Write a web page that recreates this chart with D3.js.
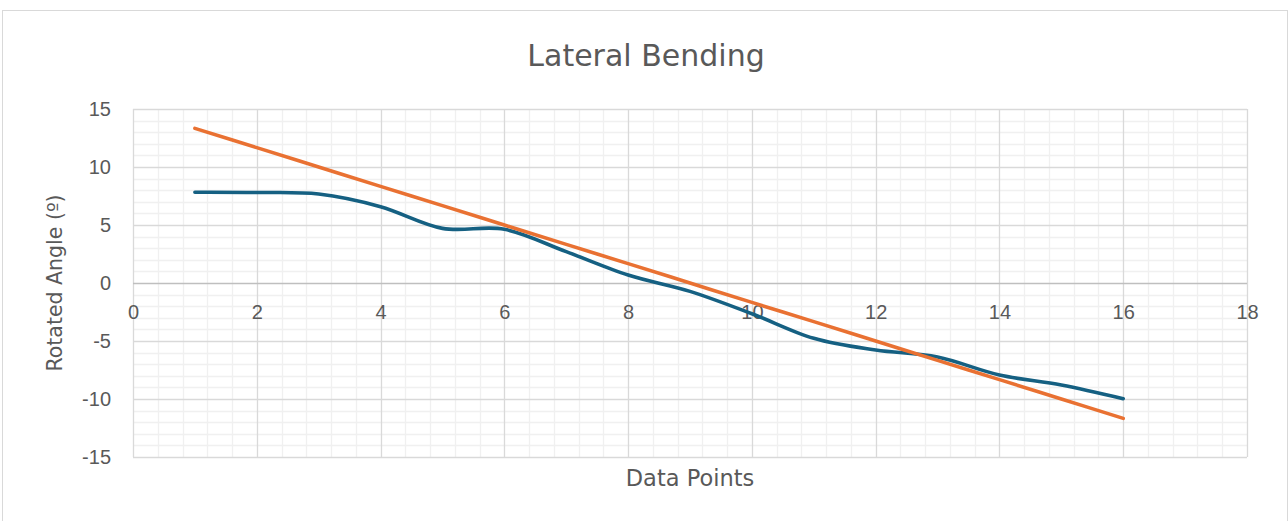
<!DOCTYPE html>
<html>
<head>
<meta charset="utf-8">
<script src="https://cdn.jsdelivr.net/npm/d3@7"></script>
<style>
  html, body { margin: 0; padding: 0; background: #ffffff; }
  svg { display: block; }
  text { font-family: "DejaVu Sans", "Noto Sans", sans-serif; fill: #595959; }
</style>
</head>
<body>
<svg id="chart" width="1288" height="521"></svg>
<script>
// Measurement points along the bend
const dataPoints = [1, 2, 3, 4, 5, 6, 7, 8, 9, 10, 11, 12, 13, 14, 15, 16];
// Measured rotated angle (degrees)
const measuredAngle = [7.82, 7.8, 7.67, 6.58, 4.71, 4.63, 2.7, 0.69, -0.72, -2.65, -4.77, -5.78, -6.38, -7.93, -8.79, -9.97];
// Reference straight-line angle (degrees)
const referenceAngle = [13.33, 11.67, 10.0, 8.33, 6.67, 5.0, 3.33, 1.67, 0.0, -1.67, -3.33, -5.0, -6.67, -8.33, -10.0, -11.67];

const xTicks = [0, 2, 4, 6, 8, 10, 12, 14, 16, 18];
const yTicks = [15, 10, 5, 0, -5, -10, -15];
const chartTitle = "Lateral Bending";
const xTitle = "Data Points";
const yTitle = "Rotated Angle (º)";

const TICK_FONT = '"Liberation Sans", Arial, sans-serif';
const svg = d3.select("#chart");
const plot = { left: 133, right: 1247, top: 109, bottom: 457 };

const x = d3.scaleLinear().domain([0, 18]).range([plot.left, plot.right]);
const y = d3.scaleLinear().domain([-15, 15]).range([plot.bottom, plot.top]);

// Chart area frame
svg.append("rect")
  .attr("x", 2.5).attr("y", 10.5)
  .attr("width", 1285).attr("height", 530)
  .attr("fill", "#ffffff").attr("stroke", "#d9d9d9").attr("stroke-width", 1);

// Minor gridlines
const xMinor = d3.range(0, 18.0001, 0.4).filter(v => Math.abs(v / 2 - Math.round(v / 2)) > 1e-6);
const yMinor = d3.range(-15, 15.0001, 1).filter(v => v % 5 !== 0);
const grid = svg.append("g");
grid.selectAll(".xm").data(xMinor).join("line")
  .attr("x1", d => Math.round(x(d)) + 0.5).attr("x2", d => Math.round(x(d)) + 0.5)
  .attr("y1", plot.top).attr("y2", plot.bottom)
  .attr("stroke", "#f0f0f0").attr("stroke-width", 1.3);
grid.selectAll(".ym").data(yMinor).join("line")
  .attr("x1", plot.left).attr("x2", plot.right)
  .attr("y1", d => Math.round(y(d)) + 0.5).attr("y2", d => Math.round(y(d)) + 0.5)
  .attr("stroke", "#f0f0f0").attr("stroke-width", 1.3);

// Major gridlines
grid.selectAll(".xM").data(xTicks).join("line")
  .attr("x1", d => Math.round(x(d)) + 0.5).attr("x2", d => Math.round(x(d)) + 0.5)
  .attr("y1", plot.top).attr("y2", plot.bottom)
  .attr("stroke", "#d9d9d9").attr("stroke-width", 1.3);
grid.selectAll(".yM").data(yTicks).join("line")
  .attr("x1", plot.left).attr("x2", plot.right)
  .attr("y1", d => Math.round(y(d)) + 0.5).attr("y2", d => Math.round(y(d)) + 0.5)
  .attr("stroke", d => d === 0 ? "#bfbfbf" : "#d9d9d9").attr("stroke-width", 1.3);

// Y axis labels (plain hyphen for negatives)
const yAxis = d3.axisLeft(y).tickValues(yTicks).tickSize(0).tickPadding(22)
  .tickFormat(d => String(d));
svg.append("g").attr("transform", `translate(${plot.left},0)`).call(yAxis)
  .call(g => g.select(".domain").remove())
  .selectAll("text")
  .attr("font-size", 20).attr("fill", "#595959")
  .style("font-family", TICK_FONT);

// X axis labels, crossing at zero
const xAxis = d3.axisBottom(x).tickValues(xTicks).tickSize(0).tickPadding(22)
  .tickFormat(d => String(d));
svg.append("g").attr("transform", `translate(0,${y(0)})`).call(xAxis)
  .call(g => g.select(".domain").remove())
  .selectAll("text")
  .attr("font-size", 20).attr("fill", "#595959")
  .style("font-family", TICK_FONT);

// Series lines (smoothed)
const line = d3.line()
  .x((d, i) => x(dataPoints[i]))
  .y(d => y(d))
  .curve(d3.curveCatmullRom.alpha(0));

svg.append("path").datum(measuredAngle)
  .attr("d", line).attr("fill", "none")
  .attr("stroke", "#156082").attr("stroke-width", 3.6)
  .attr("stroke-linecap", "round").attr("stroke-linejoin", "round");

svg.append("path").datum(referenceAngle)
  .attr("d", line).attr("fill", "none")
  .attr("stroke", "#E97132").attr("stroke-width", 3.6)
  .attr("stroke-linecap", "round").attr("stroke-linejoin", "round");

// Titles
svg.append("text").attr("x", 646).attr("y", 66)
  .attr("text-anchor", "middle").attr("font-size", 30)
  .text(chartTitle);

svg.append("text").attr("x", (plot.left + plot.right) / 2).attr("y", 486)
  .attr("text-anchor", "middle").attr("font-size", 22.5)
  .text(xTitle);

svg.append("text")
  .attr("transform", `translate(62,${(plot.top + plot.bottom) / 2}) rotate(-90)`)
  .attr("text-anchor", "middle").attr("font-size", 20.5)
  .text(yTitle);
</script>
</body>
</html>
